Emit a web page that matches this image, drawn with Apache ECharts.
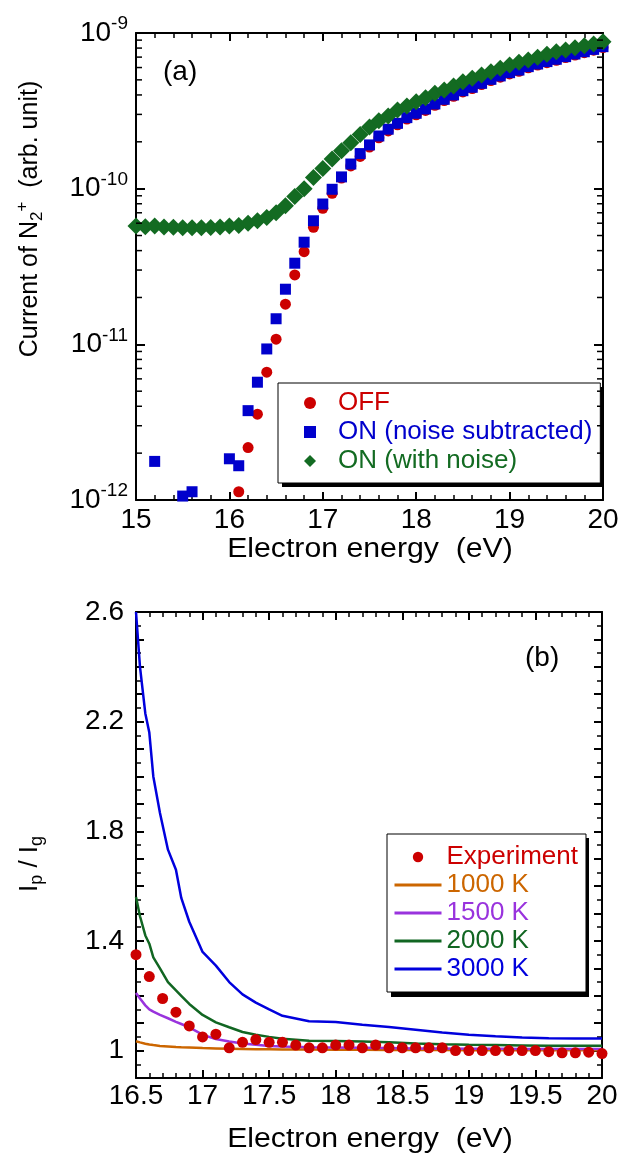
<!DOCTYPE html>
<html>
<head>
<meta charset="utf-8">
<script src="https://cdn.jsdelivr.net/npm/echarts@6/dist/echarts.min.js"></script>
<style>
  html, body { margin: 0; padding: 0; background: #fff; }
  #chart { width: 633px; height: 1163px; }
</style>
</head>
<body>
<div id="chart"></div>
<script>
// panel (a): N2+ current vs electron energy
const energyA = [
  15.0, 15.1, 15.2, 15.3, 15.4, 15.5, 15.6, 15.7, 15.8, 15.9,
  16.0, 16.1, 16.2, 16.3, 16.4, 16.5, 16.6, 16.7, 16.8, 16.9,
  17.0, 17.1, 17.2, 17.3, 17.4, 17.5, 17.6, 17.7, 17.8, 17.9,
  18.0, 18.1, 18.2, 18.3, 18.4, 18.5, 18.6, 18.7, 18.8, 18.9,
  19.0, 19.1, 19.2, 19.3, 19.4, 19.5, 19.6, 19.7, 19.8, 19.9, 20.0
]
const offCurrent = [
  null, null, null, null, null, null, null, null, null, null,
  null, 1.13e-12, 2.17e-12, 3.56e-12, 6.62e-12, 1.08e-11, 1.81e-11, 2.79e-11, 3.94e-11, 5.65e-11,
  7.48e-11, 9.33e-11, 1.17e-10, 1.40e-10, 1.61e-10, 1.85e-10, 2.12e-10, 2.35e-10, 2.57e-10, 2.80e-10,
  2.98e-10, 3.18e-10, 3.43e-10, 3.68e-10, 3.92e-10, 4.18e-10, 4.40e-10, 4.66e-10, 4.95e-10, 5.20e-10,
  5.46e-10, 5.68e-10, 5.98e-10, 6.22e-10, 6.45e-10, 6.68e-10, 6.95e-10, 7.22e-10, 7.48e-10, 7.75e-10, 8.07e-10
]
const onSubtracted = [
  null, null, 1.77e-12, null, null, 1.06e-12, 1.13e-12, null, null, null,
  1.84e-12, 1.66e-12, 3.75e-12, 5.71e-12, 9.34e-12, 1.46e-11, 2.26e-11, 3.32e-11, 4.53e-11, 6.22e-11,
  7.97e-11, 9.91e-11, 1.19e-10, 1.44e-10, 1.68e-10, 1.91e-10, 2.18e-10, 2.41e-10, 2.63e-10, 2.86e-10,
  3.05e-10, 3.25e-10, 3.50e-10, 3.75e-10, 4.00e-10, 4.26e-10, 4.48e-10, 4.75e-10, 5.04e-10, 5.30e-10,
  5.56e-10, 5.78e-10, 6.08e-10, 6.32e-10, 6.55e-10, 6.78e-10, 7.05e-10, 7.33e-10, 7.58e-10, 7.85e-10, 8.17e-10
]
const onWithNoise = [
  5.75e-11, 5.70e-11, 5.75e-11, 5.68e-11, 5.65e-11, 5.60e-11, 5.60e-11, 5.60e-11, 5.63e-11, 5.68e-11,
  5.75e-11, 5.80e-11, 6.00e-11, 6.23e-11, 6.54e-11, 7.00e-11, 7.78e-11, 8.89e-11, 1.00e-10, 1.18e-10,
  1.35e-10, 1.55e-10, 1.75e-10, 1.97e-10, 2.23e-10, 2.49e-10, 2.73e-10, 2.93e-10, 3.20e-10, 3.40e-10,
  3.62e-10, 3.84e-10, 4.10e-10, 4.31e-10, 4.57e-10, 4.87e-10, 5.12e-10, 5.37e-10, 5.64e-10, 5.93e-10,
  6.22e-10, 6.48e-10, 6.71e-10, 6.98e-10, 7.30e-10, 7.58e-10, 7.78e-10, 8.05e-10, 8.29e-10, 8.50e-10, 8.79e-10
]
const logMinorTicks = [
  2e-12, 3e-12, 4e-12, 5e-12, 6e-12, 7e-12, 8e-12, 9e-12,
  2e-11, 3e-11, 4e-11, 5e-11, 6e-11, 7e-11, 8e-11, 9e-11,
  2e-10, 3e-10, 4e-10, 5e-10, 6e-10, 7e-10, 8e-10, 9e-10
]

// panel (b): Ip / Ig ratio
const energyExp = [
  16.5, 16.6, 16.7, 16.8, 16.9, 17.0, 17.1, 17.2, 17.3, 17.4, 17.5, 17.6,
  17.7, 17.8, 17.9, 18.0, 18.1, 18.2, 18.3, 18.4, 18.5, 18.6, 18.7, 18.8,
  18.9, 19.0, 19.1, 19.2, 19.3, 19.4, 19.5, 19.6, 19.7, 19.8, 19.9, 20.0
]
const ratioExp = [
  1.35, 1.27, 1.19, 1.14, 1.09, 1.05, 1.06, 1.01, 1.03, 1.04, 1.03, 1.03,
  1.02, 1.01, 1.01, 1.02, 1.02, 1.01, 1.02, 1.01, 1.01, 1.01, 1.01, 1.01,
  1.0, 1.0, 1.0, 1.0, 1.0, 1.0, 1.0, 0.996, 0.992, 0.992, 0.994, 0.989
]
const energySim = [
  16.5, 16.53, 16.57, 16.6, 16.63, 16.68, 16.74, 16.8, 16.84, 16.9, 17.0, 17.1, 17.2,
  17.3, 17.4, 17.5, 17.6, 17.8, 18.0, 18.2, 18.4, 18.6, 18.8, 19.0, 19.2, 19.4, 19.6, 19.8, 20.0
]
const ratio1000 = [
  1.034, 1.030, 1.025, 1.022, 1.020, 1.017, 1.015, 1.013, 1.012, 1.011, 1.009, 1.008, 1.007,
  1.006, 1.005, 1.005, 1.004, 1.004, 1.003, 1.003, 1.002, 1.002, 1.002, 1.001, 1.001, 1.001, 1.001, 1.001, 1.001
]
const ratio1500 = [
  1.21, 1.19, 1.165, 1.15, 1.142, 1.13, 1.118, 1.105, 1.097, 1.085, 1.058, 1.042, 1.033,
  1.026, 1.021, 1.017, 1.015, 1.012, 1.011, 1.010, 1.009, 1.008, 1.008, 1.007, 1.007, 1.006, 1.006, 1.006, 1.006
]
const ratio2000 = [
  1.56, 1.49, 1.42, 1.39, 1.34, 1.30, 1.25, 1.22, 1.20, 1.17, 1.13, 1.103, 1.085,
  1.068, 1.058, 1.05, 1.043, 1.036, 1.035, 1.033, 1.030, 1.026, 1.023, 1.021, 1.020, 1.019, 1.018, 1.018, 1.018
]
const ratio3000 = [
  2.60, 2.40, 2.23, 2.16, 2.00, 1.867, 1.733, 1.66, 1.557, 1.47, 1.36, 1.31, 1.25,
  1.205, 1.175, 1.15, 1.127, 1.107, 1.104, 1.094, 1.086, 1.076, 1.066, 1.058, 1.052, 1.048, 1.045, 1.044, 1.044
]

const FONT = "Liberation Sans"
const RED = "#cc0000"
const BLUE = "#0000cc"
const GREEN = "#136b22"
const C1000 = "#cc6600"
const C1500 = "#9933dd"
const C2000 = "#116622"
const C3000 = "#0000dd"

const zip = (xs, ys) => xs.map((x, i) => [x, ys[i]])

const chart = echarts.init(document.getElementById("chart"), null, { renderer: "canvas" })

function frameAxis(gridIndex, position, extra) {
  return Object.assign({
    gridIndex,
    position,
    axisLine: { show: true, onZero: false, lineStyle: { color: "#000", width: 2 } },
    axisTick: { show: true, inside: true, length: 8, lineStyle: { color: "#000", width: 2 } },
    minorTick: { show: true, length: 5, lineStyle: { color: "#000", width: 1.5 } },
    splitLine: { show: false },
    axisLabel: { show: false },
  }, extra)
}

const tickLabel = { color: "#000", fontSize: 28, fontFamily: FONT }

function minorLogTick(params, api) {
  const y = api.coord([15, api.value(1)])[1]
  const cs = params.coordSys
  const style = { stroke: "#000", lineWidth: 1.5 }
  return {
    type: "group",
    children: [
      { type: "line", shape: { x1: cs.x, y1: y, x2: cs.x + 6, y2: y }, style },
      { type: "line", shape: { x1: cs.x + cs.width - 6, y1: y, x2: cs.x + cs.width, y2: y }, style },
    ],
  }
}

const scatterLike = { lineStyle: { opacity: 0, width: 0 }, emphasis: { disabled: true } }
const simLine = { symbol: "none", smooth: false, emphasis: { disabled: true } }

const option = {
  animation: false,
  backgroundColor: "#fff",
  textStyle: { fontFamily: FONT },
  grid: [
    { left: 136, top: 33, width: 467, height: 467 },
    { left: 136, top: 612, width: 466, height: 466 },
  ],
  xAxis: [
    frameAxis(0, "bottom", {
      type: "value", min: 15, max: 20, interval: 1,
      minorTick: { show: true, splitNumber: 5, length: 5, lineStyle: { color: "#000", width: 1.5 } },
      axisLabel: Object.assign({ show: true, margin: 6 }, tickLabel),
    }),
    frameAxis(0, "top", {
      type: "value", min: 15, max: 20, interval: 1,
      minorTick: { show: true, splitNumber: 5, length: 5, lineStyle: { color: "#000", width: 1.5 } },
    }),
    frameAxis(1, "bottom", {
      type: "value", min: 16.5, max: 20, interval: 0.5,
      minorTick: { show: true, splitNumber: 5, length: 5, lineStyle: { color: "#000", width: 1.5 } },
      axisLabel: Object.assign({ show: true, margin: 4 }, tickLabel),
    }),
    frameAxis(1, "top", {
      type: "value", min: 16.5, max: 20, interval: 0.5,
      minorTick: { show: true, splitNumber: 5, length: 5, lineStyle: { color: "#000", width: 1.5 } },
    }),
  ],
  yAxis: [
    frameAxis(0, "left", {
      type: "log", logBase: 10, min: 1e-12, max: 1e-9, splitNumber: 3,
      axisTick: { show: true, inside: true, length: 9, lineStyle: { color: "#000", width: 2 } },
      minorTick: { show: false },
      axisLabel: {
        show: true, margin: 8,
        formatter: (v) => "{b|10}{s|" + Math.round(Math.log10(v)) + "}",
        rich: {
          b: { fontSize: 28, fontFamily: FONT, color: "#000" },
          s: { fontSize: 19, fontFamily: FONT, color: "#000", padding: [0, 0, 18, 0] },
        },
      },
    }),
    frameAxis(0, "right", {
      type: "log", logBase: 10, min: 1e-12, max: 1e-9, splitNumber: 3,
      axisTick: { show: true, inside: true, length: 9, lineStyle: { color: "#000", width: 2 } },
      minorTick: { show: false },
    }),
    frameAxis(1, "left", {
      type: "value", min: 0.9, max: 2.6, interval: 0.1,
      minorTick: { show: true, splitNumber: 2, length: 5, lineStyle: { color: "#000", width: 1.5 } },
      axisLabel: Object.assign({
        show: true, margin: 12,
        formatter: (v) => {
          const k = (v - 1) / 0.4
          return Math.abs(k - Math.round(k)) < 1e-6 ? String(Math.round(v * 10) / 10) : ""
        },
      }, tickLabel),
    }),
    frameAxis(1, "right", {
      type: "value", min: 0.9, max: 2.6, interval: 0.1,
      minorTick: { show: true, splitNumber: 2, length: 5, lineStyle: { color: "#000", width: 1.5 } },
    }),
  ],
  legend: [
    {
      left: 278, top: 383,
      orient: "vertical",
      padding: [7, 8, 9, 9],
      itemGap: 3,
      itemWidth: 46, itemHeight: 15,
      backgroundColor: "#fff",
      borderColor: "#000", borderWidth: 1,
      selectedMode: false,
      textStyle: { fontSize: 26, fontFamily: FONT, lineHeight: 26 },
      data: [
        { name: "OFF", textStyle: { color: RED } },
        { name: "ON (noise subtracted)", textStyle: { color: BLUE } },
        { name: "ON (with noise)", textStyle: { color: GREEN } },
      ],
    },
    {
      left: 387, top: 834,
      orient: "vertical",
      padding: [10, 8, 10, 6],
      itemGap: 2,
      itemWidth: 47, itemHeight: 13,
      backgroundColor: "#fff",
      borderColor: "#000", borderWidth: 1,
      selectedMode: false,
      textStyle: { fontSize: 26, fontFamily: FONT, lineHeight: 26 },
      data: [
        { name: "Experiment", textStyle: { color: RED } },
        { name: "1000 K", textStyle: { color: C1000 }, itemStyle: { opacity: 0 }, lineStyle: { width: 3 } },
        { name: "1500 K", textStyle: { color: C1500 }, itemStyle: { opacity: 0 }, lineStyle: { width: 3 } },
        { name: "2000 K", textStyle: { color: C2000 }, itemStyle: { opacity: 0 }, lineStyle: { width: 3 } },
        { name: "3000 K", textStyle: { color: C3000 }, itemStyle: { opacity: 0 }, lineStyle: { width: 3 } },
      ],
    },
  ],
  graphic: [
    // drop shadows of the legend boxes
    { type: "rect", z: 1, shape: { x: 282, y: 387, width: 322, height: 100 }, style: { fill: "#000" } },
    { type: "rect", z: 1, shape: { x: 391, y: 838, width: 198, height: 159 }, style: { fill: "#000" } },
    {
      type: "text", left: 163, top: 58,
      style: { text: "(a)", fontSize: 28, fontFamily: FONT, fill: "#000" },
    },
    {
      type: "text", left: 525, top: 644,
      style: { text: "(b)", fontSize: 28, fontFamily: FONT, fill: "#000" },
    },
    {
      type: "text", x: 370, y: 550, scaleX: 1.12,
      style: {
        text: "Electron energy  (eV)", fontSize: 27, fontFamily: FONT, fill: "#000",
        align: "center", verticalAlign: "middle",
      },
    },
    {
      type: "text", x: 370, y: 1140, scaleX: 1.12,
      style: {
        text: "Electron energy  (eV)", fontSize: 27, fontFamily: FONT, fill: "#000",
        align: "center", verticalAlign: "middle",
      },
    },
    {
      type: "text", x: 30, y: 219, rotation: Math.PI / 2,
      style: {
        text: "Current of N{sub|2}{sup|+}  (arb. unit)",
        fontSize: 25, fontFamily: FONT, fill: "#000",
        align: "center", verticalAlign: "middle",
        rich: {
          sub: { fontSize: 17, fontFamily: FONT, fill: "#000", padding: [14, 0, 0, 0] },
          sup: { fontSize: 17, fontFamily: FONT, fill: "#000", padding: [0, 0, 16, 0] },
        },
      },
    },
    {
      type: "text", x: 30, y: 864, rotation: Math.PI / 2,
      style: {
        text: "I{sub|p} / I{sub|g}",
        fontSize: 26, fontFamily: FONT, fill: "#000",
        align: "center", verticalAlign: "middle",
        rich: {
          sub: { fontSize: 18, fontFamily: FONT, fill: "#000", padding: [14, 0, 0, 0] },
        },
      },
    },
  ],
  series: [
    {
      name: "OFF", type: "line", xAxisIndex: 0, yAxisIndex: 0,
      data: zip(energyA, offCurrent),
      symbol: "circle", symbolSize: 11,
      itemStyle: { color: RED },
      ...scatterLike,
    },
    {
      name: "ON (noise subtracted)", type: "line", xAxisIndex: 0, yAxisIndex: 0,
      data: zip(energyA, onSubtracted),
      symbol: "rect", symbolSize: 11,
      itemStyle: { color: BLUE },
      ...scatterLike,
    },
    {
      name: "ON (with noise)", type: "line", xAxisIndex: 0, yAxisIndex: 0,
      data: zip(energyA, onWithNoise),
      symbol: "diamond", symbolSize: 17,
      itemStyle: { color: GREEN },
      ...scatterLike,
    },
    {
      name: "logMinor", type: "custom", xAxisIndex: 0, yAxisIndex: 0,
      data: logMinorTicks.map((v) => [15, v]),
      encode: { x: 0, y: 1 },
      renderItem: minorLogTick,
      silent: true, z: 5,
    },
    {
      name: "1000 K", type: "line", xAxisIndex: 2, yAxisIndex: 2,
      data: zip(energySim, ratio1000), ...simLine,
      lineStyle: { color: C1000, width: 2.5 }, itemStyle: { color: C1000 },
    },
    {
      name: "1500 K", type: "line", xAxisIndex: 2, yAxisIndex: 2,
      data: zip(energySim, ratio1500), ...simLine,
      lineStyle: { color: C1500, width: 2.5 }, itemStyle: { color: C1500 },
    },
    {
      name: "2000 K", type: "line", xAxisIndex: 2, yAxisIndex: 2,
      data: zip(energySim, ratio2000), ...simLine,
      lineStyle: { color: C2000, width: 2.5 }, itemStyle: { color: C2000 },
    },
    {
      name: "3000 K", type: "line", xAxisIndex: 2, yAxisIndex: 2,
      data: zip(energySim, ratio3000), ...simLine,
      lineStyle: { color: C3000, width: 2.5 }, itemStyle: { color: C3000 },
    },
    {
      name: "Experiment", type: "line", xAxisIndex: 2, yAxisIndex: 2,
      data: zip(energyExp, ratioExp),
      symbol: "circle", symbolSize: 11, z: 10,
      itemStyle: { color: RED },
      ...scatterLike,
    },
  ],
}

chart.setOption(option)
</script>
</body>
</html>
